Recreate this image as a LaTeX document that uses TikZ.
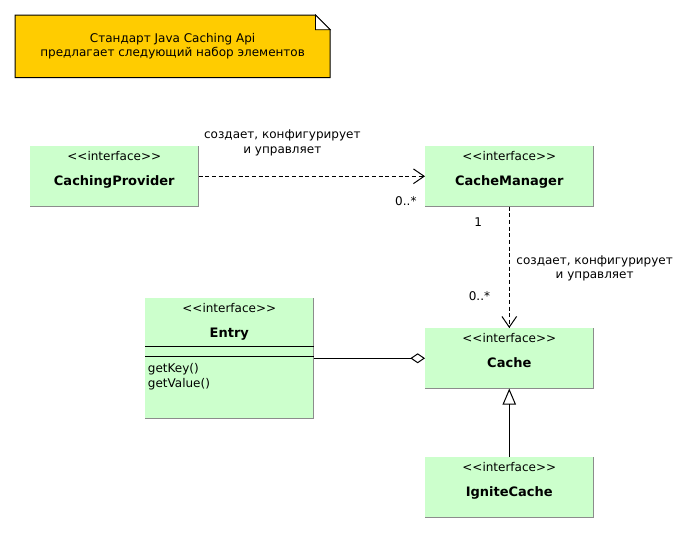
\documentclass[tikz,border=0pt]{standalone}
\usepackage{fontspec}
\setmainfont{DejaVu Sans}
\usetikzlibrary{positioning,arrows.meta,calc,backgrounds}
\definecolor{classgreen}{RGB}{204,255,204}
\definecolor{classedge}{RGB}{140,140,140}
\definecolor{notegold}{RGB}{255,204,0}
\newcommand{\stereotag}{<\kern0pt<interface>\kern0pt>}

\begin{document}
\begin{tikzpicture}[
    x=0.75pt, y=-0.75pt,
    iface/.style={rectangle, fill=classgreen, anchor=north west, inner sep=0pt,
                  minimum width=126pt, minimum height=45pt,
                  label={[stereo]north:\stereotag}, label={[clsname]north:#1}},
    stereo/.style={anchor=north, inner sep=0pt, yshift=-4pt,
                   font=\fontsize{9}{11}\selectfont},
    clsname/.style={anchor=north, inner sep=0pt, yshift=-22pt,
                    font=\fontsize{9.75}{12}\selectfont\bfseries},
    lbl/.style={font=\fontsize{9}{11}\selectfont, align=center, inner sep=1pt},
    notebox/.style={rectangle, anchor=north west, inner sep=0pt, align=center,
                    minimum width=236pt, minimum height=46.5pt,
                    font=\fontsize{9}{11}\selectfont},
    dep/.style={dash pattern=on 3pt off 2pt, line width=0.75pt,
                -{Straight Barb[length=8pt, width=11pt]}},
    aggr/.style={line width=0.75pt, -{Diamond[open, length=11pt, width=7.5pt]}},
    gen/.style={line width=0.75pt, -{Triangle[open, length=12pt, width=10pt]}}
]
\useasboundingbox (0,0) rectangle (692,533);

% note
\node[notebox] (note) at (15,15) {Стандарт Java Caching Api\\предлагает следующий набор элементов};
\begin{scope}[on background layer]
    \draw[fill=notegold, line width=0.75pt] (note.south west) -- (note.north west)
        -- ([xshift=-11pt]note.north east) -- ([yshift=-11pt]note.north east)
        -- (note.south east) -- cycle;
\end{scope}
\draw[fill=white, line width=0.6pt] ([xshift=-11pt]note.north east)
    |- ([yshift=-11pt]note.north east) -- cycle;

% classes
\node[iface=CachingProvider] (prov) at (30,146) {};
\node[iface=CacheManager] (mgr) at (425,146) {};
\node[iface=Entry, minimum height=90pt] (entry) at (145,298) {};
\node[iface=Cache] (cache) at (425,328) {};
\node[iface=IgniteCache] (ignite) at (425,457) {};

\foreach \n in {prov,mgr,entry,cache,ignite}
    \draw[classedge, line width=0.6pt] (\n.north east) -- (\n.south east) -- (\n.south west);

\draw[line width=0.75pt] ([yshift=-36pt]entry.north west) -- ([yshift=-36pt]entry.north east);
\draw[line width=0.75pt] ([yshift=-43.5pt]entry.north west) -- ([yshift=-43.5pt]entry.north east);
\node[lbl, anchor=north west, align=left, inner sep=0pt] (ops)
    at ([xshift=2pt, yshift=-49pt]entry.north west) {getKey()\\getValue()};

% connectors
\draw[dep] (prov) -- node[lbl, pos=0.37, above=14pt] (provlbl) {создает, конфигурирует\\и управляет}
    node[lbl, pos=1, anchor=north east, xshift=-5pt, yshift=-14pt] (provmult) {0..*} (mgr);
\draw[dep] (mgr) -- node[lbl, pos=0.51, right=4pt] (mgrlbl) {создает, конфигурирует\\и управляет}
    node[lbl, pos=0, anchor=north east, xshift=-19pt, yshift=-7pt] (mgrone) {1}
    node[lbl, pos=1, anchor=south east, xshift=-13pt, yshift=19pt] (mgrmult) {0..*} (cache);
\draw[aggr] (entry) -- (cache);
\draw[gen] (ignite) -- (cache);

\end{tikzpicture}
\end{document}
